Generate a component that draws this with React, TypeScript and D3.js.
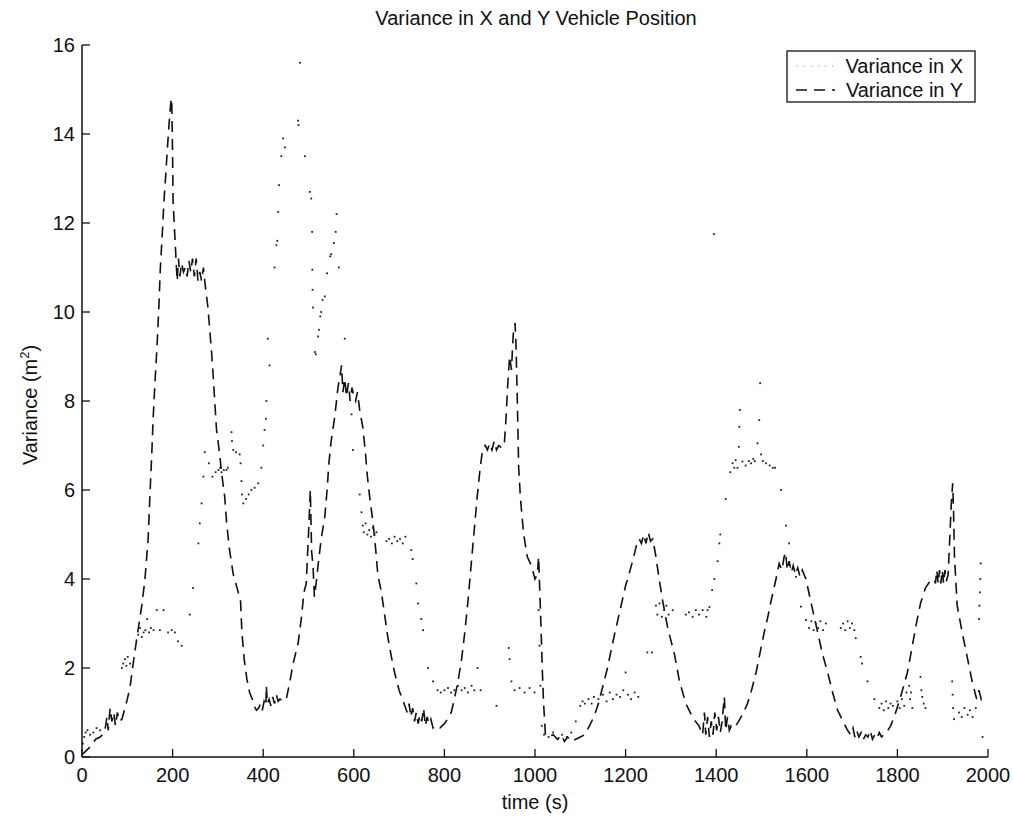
import React from "react";
import * as d3 from "d3";

const title = "Variance in X and Y Vehicle Position";
const xTicks = [0, 200, 400, 600, 800, 1000, 1200, 1400, 1600, 1800, 2000];
const yTicks = [0, 2, 4, 6, 8, 10, 12, 14, 16];
const seriesNames = ["Variance in X", "Variance in Y"];

// Variance in Y (dashed line): [time s, variance m^2]
const varianceY: [number, number][] = [
  [0,0.05],[10,0.15],[20,0.25],[30,0.4],[40,0.45],[50,0.55],[55,0.9],[58,0.6],[62,1.1],[66,0.8],[70,1.0],[74,0.7],[78,1.0],[82,0.8],[88,0.85],[95,1.1],[100,1.3],[106,1.57],[113,2.1],[120,2.6],[126,3.0],[132,3.4],[139,4.0],[146,4.9],[150,5.9],[154,6.8],[157,7.6],[161,8.4],[166,9.3],[170,10.2],[173,11.0],[178,11.9],[181,12.5],[185,13.1],[188,13.6],[192,14.2],[196,14.7],[198,14.8],[200,13.5],[201,12.5],[204,11.9],[207,11.3],[210,10.7],[213,11.2],[216,10.8],[220,11.1],[224,10.9],[228,11.0],[232,10.8],[236,11.15],[240,10.9],[244,11.2],[248,10.8],[252,11.2],[256,10.7],[260,10.9],[264,10.7],[268,11.0],[272,10.6],[278,10.1],[282,9.6],[286,9.1],[290,8.5],[293,8.0],[297,7.35],[304,6.8],[308,6.4],[315,5.85],[319,5.3],[325,4.7],[334,4.1],[345,3.7],[350,3.5],[353,2.8],[358,2.2],[364,1.75],[370,1.45],[376,1.3],[380,1.15],[385,1.05],[390,1.1],[394,1.2],[398,1.05],[402,1.25],[406,1.15],[407,1.6],[409,1.2],[413,1.3],[417,1.15],[421,1.35],[425,1.2],[429,1.4],[433,1.25],[437,1.3],[444,1.25],[451,1.3],[459,1.7],[466,2.1],[477,2.55],[484,3.1],[490,3.7],[495,3.9],[500,5.0],[504,6.0],[507,4.6],[510,4.3],[513,3.6],[518,4.0],[521,4.3],[528,4.9],[536,5.4],[541,6.0],[545,6.6],[550,7.1],[558,7.65],[565,8.3],[570,8.6],[573,8.8],[576,8.2],[580,8.5],[584,8.1],[588,8.4],[592,8.0],[596,8.3],[600,8.1],[604,8.0],[608,8.2],[613,7.8],[620,7.4],[626,6.8],[629,6.4],[635,5.85],[642,5.3],[648,4.7],[653,4.1],[661,3.7],[668,3.2],[675,2.7],[683,2.25],[690,1.9],[700,1.5],[712,1.17],[718,1.0],[722,1.2],[726,0.9],[730,1.1],[734,0.8],[738,1.0],[742,0.75],[746,0.95],[750,0.8],[754,1.1],[758,0.7],[762,0.9],[766,0.75],[770,0.85],[775,0.65],[780,0.7],[790,0.65],[800,0.75],[807,0.85],[815,1.0],[822,1.3],[830,1.7],[838,2.2],[845,2.8],[852,3.5],[858,4.2],[865,5.0],[872,5.8],[878,6.4],[884,6.9],[890,7.0],[895,6.9],[900,7.05],[905,6.9],[910,7.1],[915,6.9],[920,7.0],[926,6.95],[932,7.0],[936,7.6],[940,8.4],[944,9.0],[948,8.7],[952,9.5],[956,9.75],[958,9.3],[961,8.0],[964,6.5],[968,5.8],[975,5.0],[983,4.5],[992,4.3],[1000,4.0],[1005,4.1],[1008,4.5],[1010,3.9],[1013,3.0],[1016,2.0],[1019,1.2],[1023,0.5],[1030,0.45],[1040,0.5],[1050,0.4],[1058,0.5],[1065,0.35],[1072,0.45],[1080,0.35],[1090,0.4],[1100,0.45],[1110,0.5],[1120,0.7],[1130,0.9],[1140,1.2],[1150,1.6],[1160,2.0],[1170,2.5],[1180,2.95],[1190,3.4],[1200,3.85],[1210,4.2],[1218,4.5],[1225,4.8],[1230,4.9],[1235,4.8],[1240,5.0],[1245,4.8],[1250,5.05],[1255,4.85],[1260,4.9],[1267,4.5],[1274,4.0],[1282,3.5],[1293,2.9],[1308,2.3],[1319,1.7],[1333,1.2],[1345,0.95],[1352,0.83],[1362,0.7],[1370,0.5],[1374,1.0],[1377,0.5],[1381,0.9],[1385,0.45],[1389,0.8],[1393,0.5],[1397,1.0],[1401,0.6],[1405,0.9],[1409,0.55],[1413,0.8],[1418,1.35],[1421,0.6],[1425,0.9],[1429,0.6],[1433,0.7],[1440,0.65],[1447,0.76],[1458,0.95],[1469,1.2],[1478,1.5],[1488,1.9],[1497,2.35],[1506,2.8],[1514,3.15],[1521,3.5],[1532,4.0],[1539,4.35],[1545,4.2],[1550,4.5],[1553,4.6],[1557,4.2],[1561,4.4],[1566,4.15],[1570,4.3],[1575,4.1],[1580,4.25],[1585,4.05],[1590,4.2],[1598,4.0],[1613,3.3],[1624,2.8],[1635,2.3],[1646,1.9],[1657,1.45],[1668,1.05],[1682,0.76],[1690,0.6],[1697,0.5],[1702,0.65],[1706,0.45],[1710,0.6],[1715,0.45],[1720,0.55],[1725,0.4],[1730,0.5],[1735,0.45],[1740,0.6],[1745,0.4],[1750,0.5],[1755,0.42],[1760,0.55],[1765,0.45],[1770,0.5],[1776,0.55],[1785,0.7],[1793,0.9],[1807,1.35],[1822,1.9],[1833,2.5],[1840,2.9],[1851,3.45],[1862,3.8],[1872,3.95],[1881,4.0],[1884,3.9],[1887,4.2],[1890,3.9],[1893,4.2],[1896,3.9],[1899,4.2],[1902,3.9],[1905,4.2],[1908,3.95],[1912,4.1],[1916,5.0],[1919,5.7],[1922,6.15],[1924,5.5],[1926,4.5],[1932,3.4],[1943,2.8],[1954,2.25],[1965,1.7],[1975,1.3],[1980,1.5],[1985,1.3],[1990,1.4]
];

// Variance in X (dotted): [time s, variance m^2]
const varianceX: [number, number][] = [
  [2,0.3],[5,0.45],[8,0.55],[12,0.6],[18,0.5],[25,0.55],[32,0.65],[40,0.6],
  [88,2.0],[91,2.1],[95,2.2],[98,2.05],[101,2.25],[106,2.1],
  [124,2.75],[128,2.9],[132,2.7],[136,2.8],[140,2.85],[144,3.1],[148,2.8],[152,2.9],[158,2.85],[165,3.3],[172,2.85],[180,3.3],[190,2.8],[198,2.85],[205,2.8],[212,2.6],[220,2.5],
  [238,3.2],[245,3.8],[257,4.8],[260,5.25],[264,5.7],[268,6.3],[271,6.85],[280,6.6],[288,6.3],[295,6.4],[301,6.45],[305,6.5],[308,6.4],[313,6.45],[319,6.45],[322,6.5],[330,7.3],[331,7.1],[334,6.9],[340,6.85],[348,6.8],[350,6.6],[352,6.2],[353,5.9],[356,5.7],[362,5.8],[368,5.9],[374,6.0],[381,6.05],[389,6.15],[396,6.5],[400,7.0],[403,7.35],[406,7.6],[407,8.0],[410,9.4],[414,8.8],[425,11.0],[429,11.5],[431,11.6],[433,12.25],[435,12.85],[440,13.5],[444,13.9],[448,13.7],[477,14.3],[478,14.2],[481,15.6],[492,13.5],[503,12.7],[506,12.55],[508,11.8],[508.5,10.95],[509,10.5],[510,10.1],[514,9.1],[516,9.05],[521,9.45],[523,9.6],[526,9.9],[528,10.0],[531,10.27],[536,10.35],[541,10.87],[548,11.25],[550,11.3],[556,11.55],[560,11.8],[562,12.2],[567,11.0],[580,9.4],[595,7.7],[598,6.9],[613,5.9],[617,5.5],[620,5.2],[622,5.05],[626,5.25],[630,5.0],[634,5.1],[638,4.95],[642,5.15],[646,5.0],[650,5.05],[672,4.85],[678,4.9],[684,4.8],[690,4.95],[696,4.85],[702,4.9],[708,4.8],[714,4.95],[727,4.65],[730,4.45],[738,3.9],[742,3.45],[749,3.1],[753,2.85],[764,2.0],[775,1.7],[785,1.5],[792,1.45],[800,1.5],[808,1.55],[815,1.45],[822,1.5],[830,1.6],[838,1.5],[845,1.55],[852,1.45],[860,1.6],[866,1.5],[873,2.0],[880,1.5],[915,1.15],
  [942,2.45],[944,2.2],[948,1.7],[955,1.5],[966,1.55],[977,1.45],[988,1.55],[999,1.45],[1008,3.3],[1010,2.5],[1012,1.6],[1015,0.7],[1020,0.5],[1030,0.45],[1040,0.55],[1050,0.4],[1060,0.5],[1070,0.45],[1080,0.55],[1090,0.8],[1100,1.15],[1105,1.25],[1110,1.2],[1118,1.3],[1125,1.2],[1130,1.35],[1140,1.3],[1150,1.4],[1158,1.25],[1165,1.45],[1172,1.3],[1180,1.4],[1188,1.35],[1195,1.5],[1200,1.9],[1205,1.4],[1212,1.3],[1220,1.45],[1228,1.35],[1248,2.35],[1258,2.35],
  [1267,3.4],[1270,3.2],[1275,3.45],[1280,3.15],[1285,3.3],[1290,3.4],[1295,3.2],[1304,3.3],[1333,3.2],[1340,3.25],[1348,3.15],[1355,3.3],[1362,3.2],[1370,3.3],[1378,3.15],[1381,3.3],[1385,3.37],[1391,3.75],[1395,11.75],[1396,4.0],[1403,4.4],[1407,4.8],[1409,5.0],[1421,5.8],[1431,6.4],[1436,6.6],[1440,6.5],[1443,6.67],[1447,6.5],[1450,6.97],[1451,7.42],[1452,7.8],[1458,6.64],[1465,6.55],[1472,6.65],[1477,6.6],[1482,6.7],[1485,6.65],[1491,7.05],[1495,7.57],[1497,8.4],[1499,6.8],[1503,6.65],[1510,6.6],[1518,6.55],[1525,6.5],[1530,6.5],[1543,6.0],[1554,5.2],[1561,4.8],[1576,4.05],[1587,3.38],[1598,3.08],[1605,2.9],[1610,3.05],[1615,2.85],[1620,3.0],[1625,2.9],[1630,3.05],[1636,2.85],[1642,3.0],[1675,2.9],[1680,3.0],[1685,2.85],[1690,3.05],[1695,2.9],[1700,3.0],[1705,2.85],[1708,2.67],[1719,2.25],[1722,2.1],[1734,1.7],[1749,1.3],[1760,1.1],[1765,1.2],[1770,1.05],[1775,1.25],[1780,1.1],[1785,1.2],[1790,1.15],[1800,1.25],[1805,1.1],[1810,1.3],[1815,1.15],[1820,1.45],[1826,1.6],[1828,1.3],[1830,1.45],[1833,1.1],[1851,1.8],[1853,1.5],[1855,1.35],[1858,1.2],[1862,1.1],[1921,1.7],[1922,1.4],[1923,1.1],[1925,0.85],[1936,1.0],[1942,0.9],[1948,1.1],[1955,0.95],[1960,1.05],[1966,0.9],[1973,1.1],[1980,3.1],[1981,3.4],[1982,3.7],[1983,4.0],[1984,4.35],[1988,0.45]
];

const W = 1013;
const H = 827;
const FONT = "'Liberation Sans', Arial, Helvetica, sans-serif";

export default function App() {
  const x = d3.scaleLinear().domain([0, 2000]).range([82, 988]);
  const y = d3.scaleLinear().domain([0, 16]).range([757, 45]);
  const line = d3.line<[number, number]>().x(d => x(d[0])).y(d => y(d[1]));
  const x0 = x.range()[0], x1 = x.range()[1];
  const y0 = y.range()[0], y1 = y.range()[1];

  return (
    <svg width={W} height={H} style={{ position: "absolute", left: 0, top: 0, background: "#fff" }} fontFamily={FONT}>
      <rect x={0} y={0} width={W} height={H} fill="#fff" />
      <text x={536} y={25} textAnchor="middle" fontSize={20} fill="#111">{title}</text>

      {/* series */}
      <path d={line(varianceY) || ""} fill="none" stroke="#111" strokeWidth={1.6} strokeDasharray="11 7" />
      {varianceX.map((d, i) => (
        <rect key={i} x={x(d[0]) - 0.9} y={y(d[1]) - 0.9} width={1.8} height={1.8} fill="#222" />
      ))}

      {/* axes */}
      <line x1={x0} y1={y0} x2={x1} y2={y0} stroke="#111" strokeWidth={1.5} />
      <line x1={x0} y1={y0} x2={x0} y2={y1} stroke="#111" strokeWidth={1.5} />
      {xTicks.map(t => (
        <g key={"xt" + t}>
          <line x1={x(t)} y1={y0} x2={x(t)} y2={y0 - 8} stroke="#111" strokeWidth={1.3} />
          <text x={x(t)} y={y0 + 25} textAnchor="middle" fontSize={20} fill="#111">{t}</text>
        </g>
      ))}
      {yTicks.map(t => (
        <g key={"yt" + t}>
          <line x1={x0} y1={y(t)} x2={x0 + 8} y2={y(t)} stroke="#111" strokeWidth={1.3} />
          <text x={x0 - 7} y={y(t) + 7} textAnchor="end" fontSize={20} fill="#111">{t}</text>
        </g>
      ))}
      <text x={535} y={809} textAnchor="middle" fontSize={20} fill="#111">time (s)</text>
      <text transform={`translate(37,405) rotate(-90)`} textAnchor="middle" fontSize={20} fill="#111">
        Variance (m<tspan dy={-8} fontSize={13}>2</tspan><tspan dy={8}>)</tspan>
      </text>

      {/* legend */}
      <rect x={787} y={51} width={188} height={51} fill="#fff" stroke="#111" strokeWidth={1.3} />
      <line x1={797} y1={66} x2={835} y2={66} stroke="#999" strokeWidth={1} strokeDasharray="1 6" />
      <text x={963} y={73} textAnchor="end" fontSize={20} fill="#111">{seriesNames[0]}</text>
      <line x1={796} y1={90} x2={835} y2={90} stroke="#111" strokeWidth={1.6} strokeDasharray="11 7" />
      <text x={963} y={97} textAnchor="end" fontSize={20} fill="#111">{seriesNames[1]}</text>
    </svg>
  );
}
